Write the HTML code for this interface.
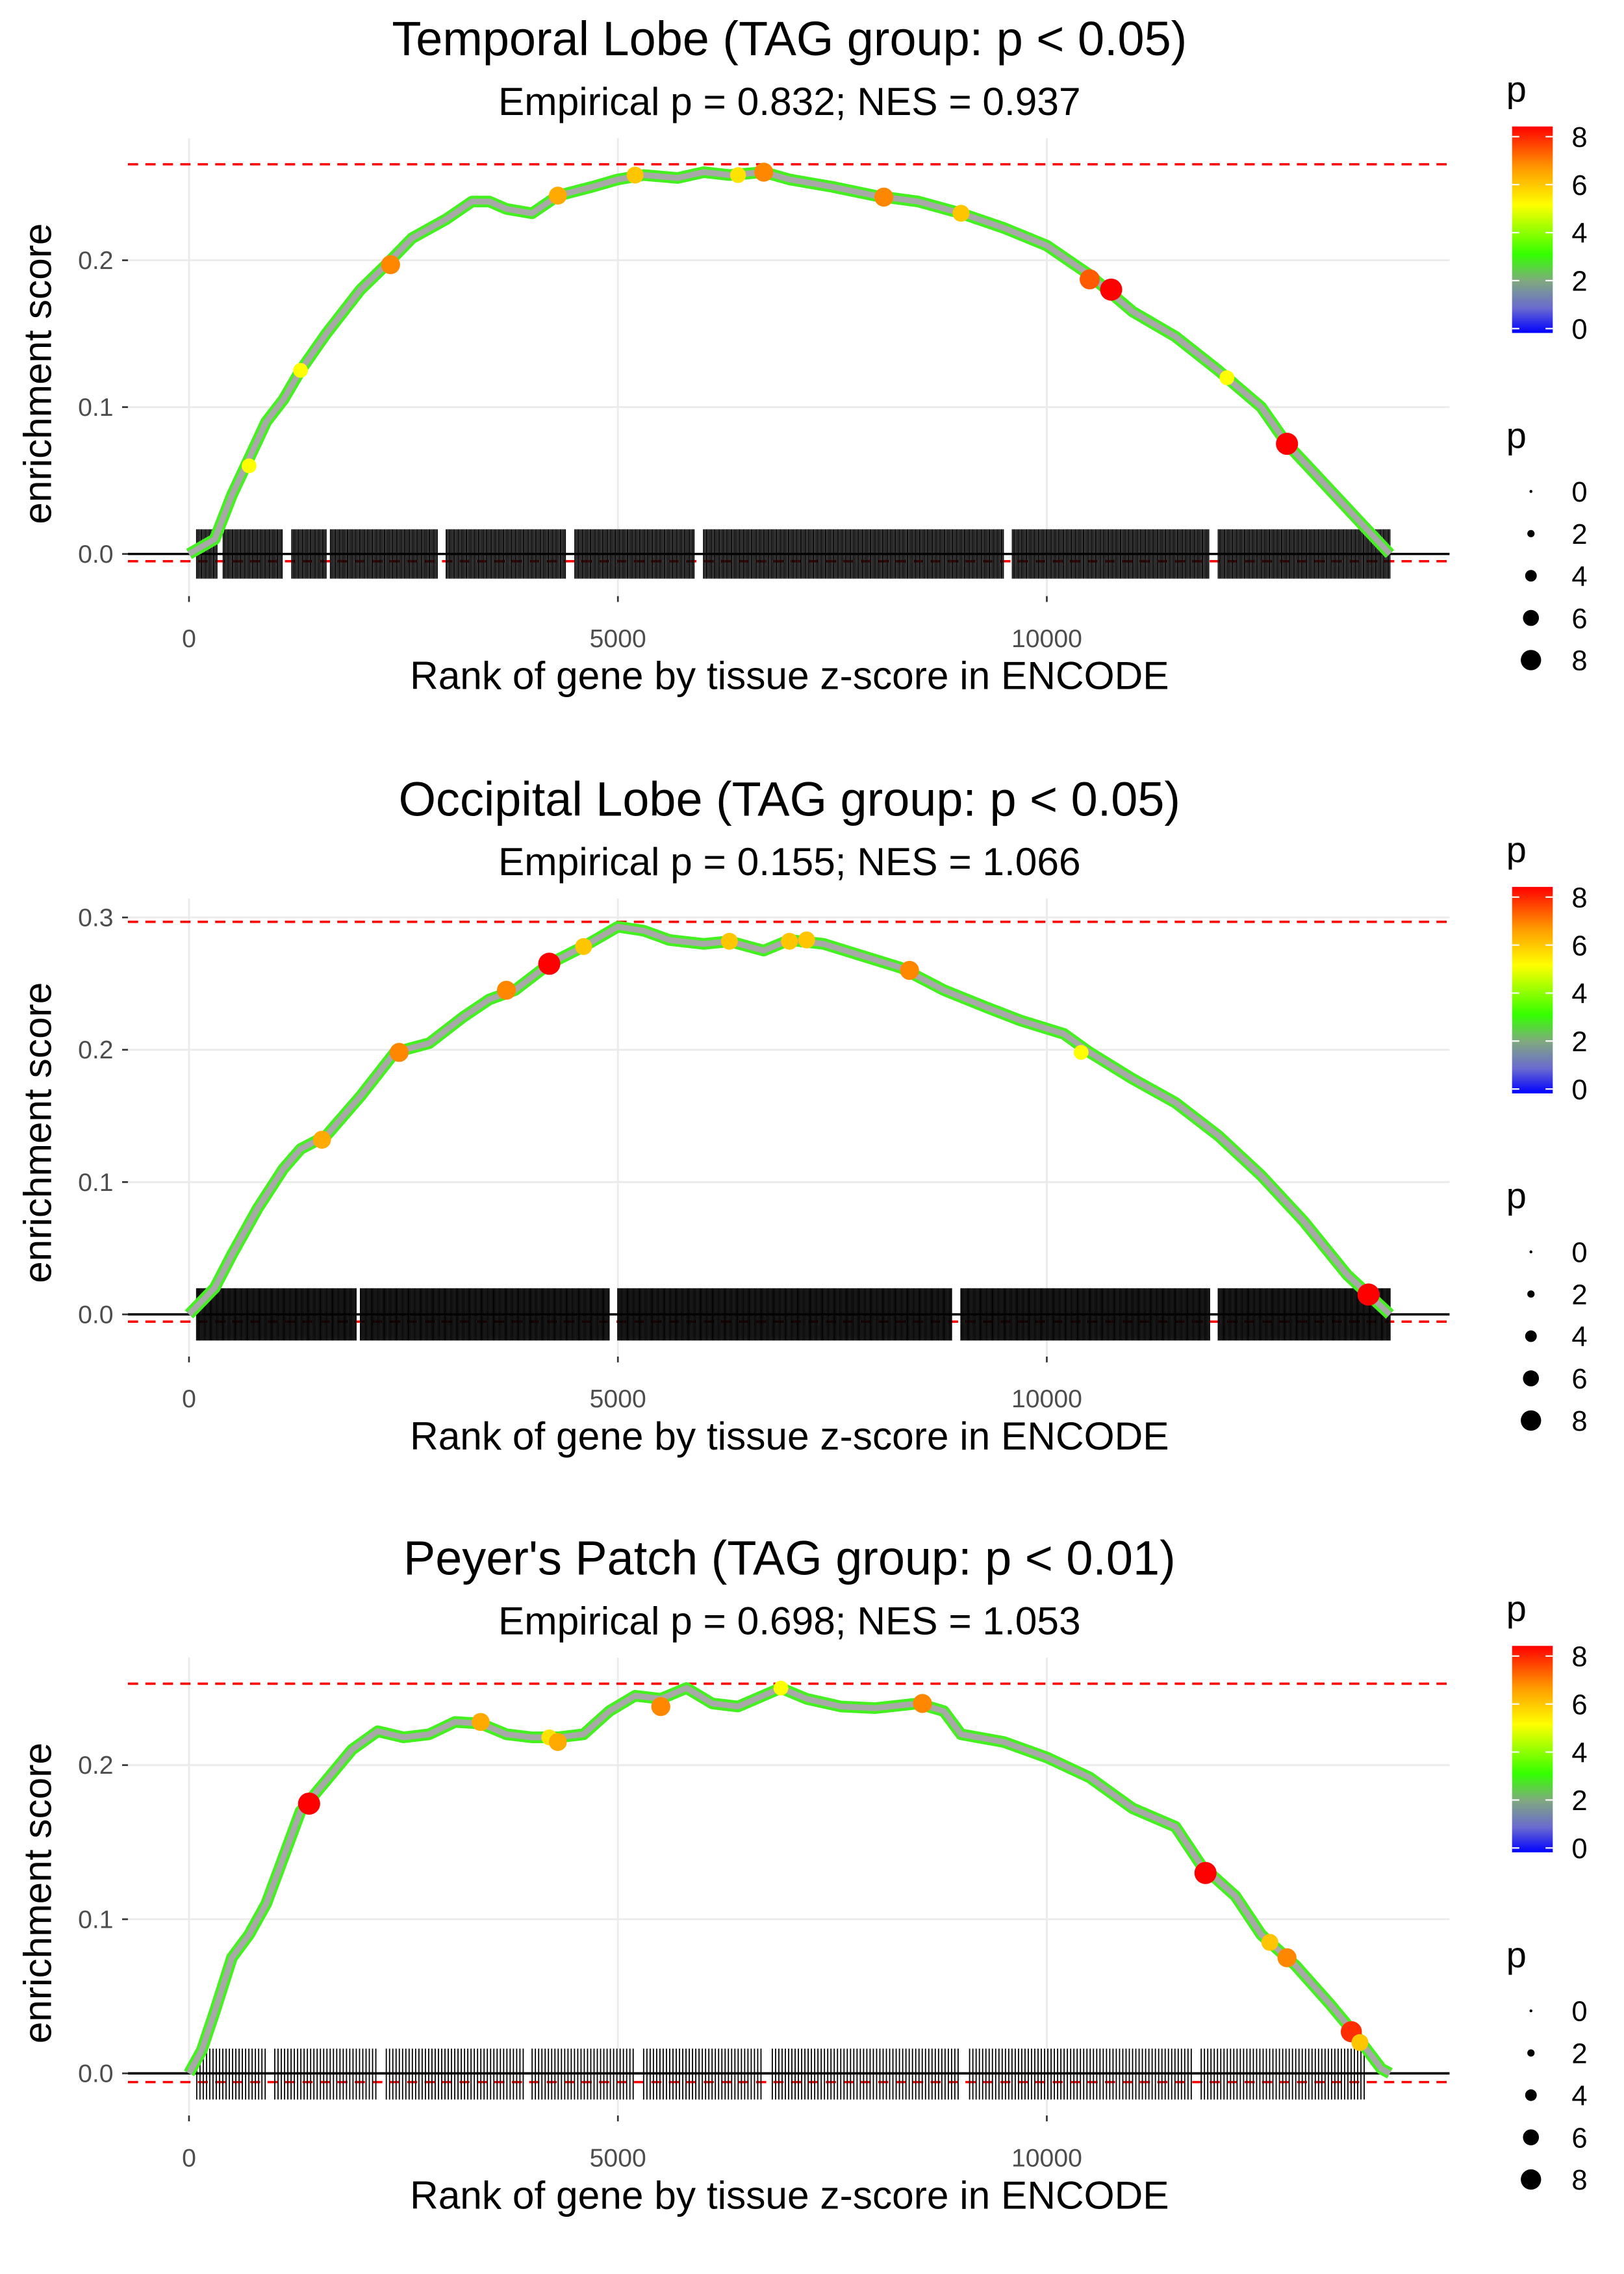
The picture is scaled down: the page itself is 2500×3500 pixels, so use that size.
<!DOCTYPE html>
<html><head><meta charset="utf-8"><style>
html,body{margin:0;padding:0;background:#fff}
svg{display:block}
text{font-family:"Liberation Sans",sans-serif}
</style></head><body>
<svg id="chart" width="2500" height="3500" viewBox="0 0 1117 1564" preserveAspectRatio="none" xmlns="http://www.w3.org/2000/svg">
<defs>
<linearGradient id="pgrad" x1="0" y1="1" x2="0" y2="0">
<stop offset="0" stop-color="#0000ff"/><stop offset="0.12" stop-color="#6a6ad0"/>
<stop offset="0.25" stop-color="#80a880"/><stop offset="0.38" stop-color="#33ff00"/>
<stop offset="0.62" stop-color="#ffff00"/><stop offset="0.8" stop-color="#ff9900"/>
<stop offset="1" stop-color="#ff0000"/>
</linearGradient>
</defs>
</svg>
<script>
// ---- data ----
const titles = ["Temporal Lobe (TAG group: p < 0.05)","Occipital Lobe (TAG group: p < 0.05)","Peyer's Patch (TAG group: p < 0.01)"];
const subtitles = ["Empirical p = 0.832; NES = 0.937","Empirical p = 0.155; NES = 1.066","Empirical p = 0.698; NES = 1.053"];
const xTicks = [0,5000,10000];
const yTicks1 = [0,0.1,0.2];
const yTicks2 = [0,0.1,0.2,0.3];
const yTicks3 = [0,0.1,0.2];
const legendTicks = [0,2,4,6,8];

const rank1 = [0,300,500,700,900,1100,1300,1600,2000,2300,2600,3000,3300,3500,3700,4000,4300,4700,5000,5300,5700,6000,6300,6700,7000,7500,8000,8500,9000,9500,10000,10500,10700,11000,11500,12000,12500,12800,13200,13600,14000];
const es1 = [0,0.01,0.04,0.065,0.09,0.105,0.125,0.15,0.18,0.197,0.215,0.228,0.24,0.24,0.235,0.232,0.244,0.25,0.255,0.258,0.256,0.26,0.258,0.26,0.255,0.25,0.244,0.24,0.232,0.222,0.21,0.19,0.18,0.165,0.148,0.125,0.1,0.075,0.05,0.025,0];
const hiRank1 = [700,1300,2350,4300,5200,6400,6700,8100,9000,10500,10750,12100,12800];
const hiEs1 = [0.06,0.125,0.197,0.244,0.258,0.258,0.26,0.243,0.232,0.187,0.18,0.12,0.075];
const hiP1 = [5,5,7,6.5,6,5.5,7,7,6,7.5,8.5,5,8.5];
const rugStart1 = [90,400,1200,1650,3000,4500,6000,9600,12000];
const rugEnd1 = [330,1100,1600,2900,4400,5900,9500,11900,14000];

const rank2 = [0,300,500,800,1100,1300,1600,2000,2400,2800,3200,3500,3800,4200,4600,5000,5300,5600,6000,6300,6700,7000,7400,7800,8300,8800,9300,9700,10200,10500,11000,11500,12000,12500,13000,13500,13800,14000];
const es2 = [0,0.02,0.045,0.08,0.11,0.125,0.135,0.165,0.198,0.205,0.225,0.238,0.245,0.265,0.278,0.293,0.29,0.283,0.28,0.282,0.275,0.283,0.28,0.272,0.262,0.245,0.232,0.222,0.212,0.198,0.178,0.16,0.135,0.105,0.07,0.03,0.012,0];
const hiRank2 = [1550,2450,3700,4200,4600,6300,7000,7200,8400,10400,13750];
const hiEs2 = [0.132,0.198,0.245,0.265,0.278,0.282,0.282,0.283,0.26,0.198,0.015];
const hiP2 = [6.5,7,7,8.5,6,6,6,6,7,5,8.5];
const rugStart2 = [90,2000,5000,9000,12000];
const rugEnd2 = [1950,4900,8900,11900,14000];

const rank3 = [0,150,300,500,700,900,1100,1300,1600,1900,2200,2500,2800,3100,3400,3700,4000,4300,4600,4900,5200,5500,5800,6100,6400,6900,7200,7600,8000,8500,8800,9000,9500,10000,10500,11000,11500,11800,12200,12500,12900,13300,13600,13900,14000];
const es3 = [0,0.015,0.04,0.075,0.09,0.11,0.14,0.17,0.19,0.21,0.222,0.218,0.22,0.228,0.227,0.22,0.218,0.218,0.22,0.235,0.245,0.243,0.25,0.24,0.238,0.25,0.243,0.238,0.237,0.24,0.235,0.22,0.215,0.205,0.192,0.172,0.16,0.135,0.115,0.09,0.07,0.045,0.025,0.003,0];
const hiRank3 = [1400,3400,4200,4300,5500,6900,8550,11850,12600,12800,13550,13650];
const hiEs3 = [0.175,0.228,0.218,0.215,0.238,0.25,0.24,0.13,0.085,0.075,0.027,0.02];
const hiP3 = [8.5,6.5,5.5,6.5,7,5,7,8.5,6,7,8,6];
const rugStart3 = [90,1000,2300,4000,5300,6800,9100,11800];
const rugEnd3 = [900,2200,3900,5200,6700,9000,11700,13700];

const panels = [
 {off:0, y0:381, ys:1010, top:113, bot:386, ticks:yTicks1, rank:rank1, es:es1, hr:hiRank1, he:hiEs1, hp:hiP1, rs:rugStart1, re:rugEnd1, rugStep:18, rugW:0.9, rugTop:364, rugBot:398},
 {off:523, y0:904, ys:910, top:634, bot:909, ticks:yTicks2, rank:rank2, es:es2, hr:hiRank2, he:hiEs2, hp:hiP2, rs:rugStart2, re:rugEnd2, rugStep:16, rugW:0.9, rugTop:886, rugBot:922},
 {off:1045, y0:1426, ys:1060, top:1158, bot:1432, ticks:yTicks3, rank:rank3, es:es3, hr:hiRank3, he:hiEs3, hp:hiP3, rs:rugStart3, re:rugEnd3, rugStep:38, rugW:0.8, rugTop:1409, rugBot:1444}
];

const NS = "http://www.w3.org/2000/svg";
const svg = document.getElementById('chart');
function mk(tag, attrs, parent){const e=document.createElementNS(NS,tag);for(const k in attrs)e.setAttribute(k,attrs[k]);(parent||svg).appendChild(e);return e;}
const xS = r => 130 + r*0.059;
function pColor(p){
  const stops=[[0,[0,0,255]],[1,[106,106,208]],[2,[128,168,128]],[3,[51,255,0]],[5,[255,255,0]],[6.8,[255,153,0]],[8.5,[255,0,0]]];
  for(let i=1;i<stops.length;i++){if(p<=stops[i][0]){const a=stops[i-1],b=stops[i];const t=(p-a[0])/(b[0]-a[0]);return 'rgb('+a[1].map((v,j)=>Math.round(v+(b[1][j]-v)*t)).join(',')+')';}}
  return 'rgb(255,0,0)';
}
const pR = p => 1.5 + p*0.72;

panels.forEach((P,i)=>{
  const g = mk('g',{});
  
  
  const yS = v => P.y0 - v*P.ys;
  P.ticks.forEach(t=>{const l=mk('line',{x1:88,x2:997,y1:yS(t),y2:yS(t),stroke:'#ebebeb','stroke-width':1.3},g);});
  xTicks.forEach(t=>{const l=mk('line',{x1:xS(t),x2:xS(t),y1:95+P.off,y2:410+P.off,stroke:'#ebebeb','stroke-width':1.3},g);});
  let d=mk('line',{x1:88,x2:997,y1:P.top,y2:P.top,stroke:'#ff0000','stroke-width':1.6,'stroke-dasharray':'7,5'},g);
  
  d=mk('line',{x1:88,x2:997,y1:P.bot,y2:P.bot,stroke:'#ff0000','stroke-width':1.6,'stroke-dasharray':'7,5'},g);
  
  const rug=mk('g',{stroke:'#000','stroke-width':P.rugW},g);
  
  P.rs.forEach((s,k)=>{for(let r=s;r<=P.re[k];r+=P.rugStep){mk('line',{x1:xS(r),x2:xS(r),y1:P.rugTop,y2:P.rugBot},rug);}});
  d=mk('line',{x1:88,x2:997,y1:P.y0,y2:P.y0,stroke:'#000','stroke-width':1.6},g);
  
  const pts=P.rank.map((r,k)=>xS(r).toFixed(1)+','+yS(P.es[k]).toFixed(1)).join(' ');
  let c=mk('polyline',{points:pts,fill:'none',stroke:'#44f020','stroke-width':8,'stroke-linejoin':'round'},g);
  
  c=mk('polyline',{points:pts,fill:'none',stroke:'#a8a8a8','stroke-width':4,'stroke-linejoin':'round'},g);
  
  P.hr.forEach((r,k)=>{const pt=mk('circle',{cx:xS(r),cy:yS(P.he[k]),r:pR(P.hp[k]),fill:pColor(P.hp[k])},g);
    });
  P.ticks.forEach(t=>{
    mk('line',{x1:84,x2:88,y1:yS(t),y2:yS(t),stroke:'#333','stroke-width':1.2},g);
    const tx=mk('text',{x:78,y:yS(t)+6,'text-anchor':'end','font-size':17.5,fill:'#4d4d4d'},g);tx.textContent=t.toFixed(1);
    });
  xTicks.forEach(t=>{
    mk('line',{x1:xS(t),x2:xS(t),y1:410+P.off,y2:414+P.off,stroke:'#333','stroke-width':1.2},g);
    const tx=mk('text',{x:xS(t),y:445+P.off,'text-anchor':'middle','font-size':17.5,fill:'#4d4d4d'},g);tx.textContent=t;
    });
  let t=mk('text',{x:543,y:38+P.off,'text-anchor':'middle','font-size':33,fill:'#000'},g);t.textContent=titles[i];
  
  t=mk('text',{x:543,y:79+P.off,'text-anchor':'middle','font-size':27,fill:'#000'},g);t.textContent=subtitles[i];
  
  t=mk('text',{x:543,y:474+P.off,'text-anchor':'middle','font-size':27,fill:'#000'},g);t.textContent='Rank of gene by tissue z-score in ENCODE';
  
  const cy=(P.y0+P.top)/2+10;
  t=mk('text',{x:35,y:cy,'text-anchor':'middle','font-size':27,fill:'#000',transform:'rotate(-90 35 '+cy+')'},g);t.textContent='enrichment score';
  
  const lg=mk('g',{},g);
  t=mk('text',{x:1036,y:70+P.off,'font-size':25,fill:'#000'},lg);t.textContent='p';
  mk('rect',{x:1040,y:87+P.off,width:28,height:142,fill:'url(#pgrad)'},lg);
  legendTicks.forEach(v=>{const yy=226+P.off - v*16.5;
    mk('line',{x1:1040,x2:1045,y1:yy,y2:yy,stroke:'#fff','stroke-width':1},lg);
    mk('line',{x1:1063,x2:1068,y1:yy,y2:yy,stroke:'#fff','stroke-width':1},lg);
    const tx=mk('text',{x:1081,y:yy+7,'font-size':19.5,fill:'#000'},lg);tx.textContent=v;});
  const sg=mk('g',{},g);
  t=mk('text',{x:1036,y:308+P.off,'font-size':25,fill:'#000'},sg);t.textContent='p';
  legendTicks.forEach((v,k)=>{const yy=338+P.off+k*29;
    mk('circle',{cx:1053,cy:yy,r:1+v*0.75,fill:'#000'},sg);
    const tx=mk('text',{x:1081,y:yy+7,'font-size':19.5,fill:'#000'},sg);tx.textContent=v;});
});
</script>
</body></html>
